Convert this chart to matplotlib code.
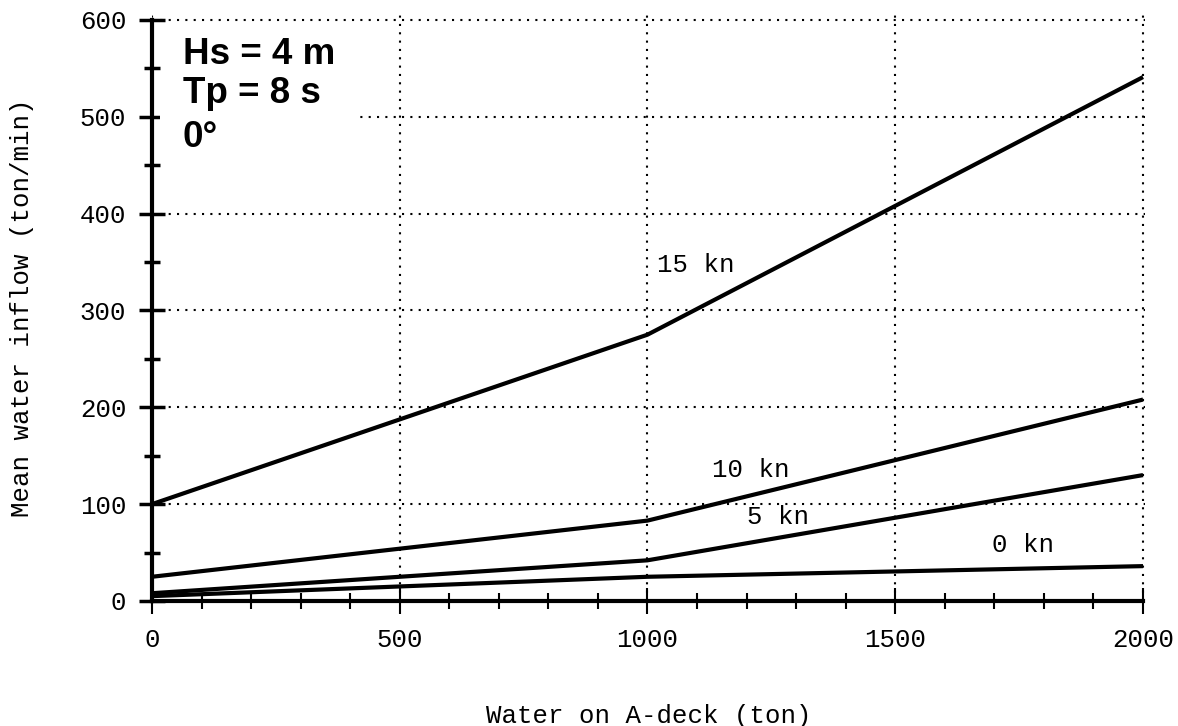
import matplotlib.pyplot as plt
from matplotlib.ticker import MultipleLocator
from matplotlib.patches import Rectangle

# Water on A-deck (ton) vs mean inflow (ton/min)
water_on_deck = [0, 1000, 2000]
inflow_15kn = [100, 275, 541]
inflow_10kn = [25, 83, 208]
inflow_5kn = [8, 42, 130]
inflow_0kn = [5, 25, 36]

speed_labels = ["15 kn", "10 kn", "5 kn", "0 kn"]
label_x = [1020, 1130, 1200, 1695]
label_y = [347, 135, 87, 58]

case_text = ["Hs = 4 m", "Tp = 8 s", "0\u00b0"]
case_y = [554, 514, 469]

mono = "Liberation Mono"
fs = 18.5

fig = plt.figure(figsize=(11.78, 7.26), dpi=100)
ax = fig.add_axes([0.129, 0.1722, 0.8434, 0.807])

for ys in (inflow_15kn, inflow_10kn, inflow_5kn, inflow_0kn):
    ax.plot(water_on_deck, ys, color="black", lw=3, solid_capstyle="butt", zorder=4)

for lab, lx, ly in zip(speed_labels, label_x, label_y):
    ax.text(lx, ly, lab, family=mono, fontsize=fs, ha="left", va="center", zorder=5)

ax.set_xlim(0, 2005)
ax.set_ylim(0, 605)
ax.spines["top"].set_visible(False)
ax.spines["right"].set_visible(False)
ax.spines["left"].set_linewidth(3)
ax.spines["bottom"].set_linewidth(3)
ax.spines["left"].set_bounds(0, 600)
ax.spines["bottom"].set_bounds(0, 2000)

ax.xaxis.set_minor_locator(MultipleLocator(100))
ax.yaxis.set_minor_locator(MultipleLocator(50))
ax.set_xticks(range(0, 2001, 500))
ax.set_yticks(range(0, 601, 100))

ax.tick_params(axis="x", which="major", direction="inout", length=19, width=1.5, pad=10)
ax.tick_params(axis="x", which="minor", direction="inout", length=11, width=1.5)
ax.tick_params(axis="y", which="major", direction="inout", length=19, width=2.5, pad=9)
ax.tick_params(axis="y", which="minor", direction="inout", length=12, width=2.5)
for lbl in ax.get_xticklabels() + ax.get_yticklabels():
    lbl.set_family(mono)
    lbl.set_fontsize(fs)

ax.grid(True, which="major", color="black", lw=1.5, linestyle=(0, (1, 3)))
ax.set_axisbelow(True)

# blank patch behind the case text (hides the 500 gridline there)
ax.add_patch(Rectangle((0.008, 0.78), 0.197, 0.1, transform=ax.transAxes,
                       facecolor="white", edgecolor="none", zorder=1.5))
for t, ty in zip(case_text, case_y):
    ax.text(62, ty, t, fontsize=26.5, fontweight="bold", family="Liberation Sans",
            ha="left", va="baseline", zorder=5)

ax.set_xlabel("Water on A-deck (ton)", family=mono, fontsize=fs, va="center")
ax.set_ylabel("Mean water inflow (ton/min)", family=mono, fontsize=fs, va="center")
ax.xaxis.set_label_coords(0.5, -0.196)
ax.yaxis.set_label_coords(-0.131, 0.5)

fig.savefig("out.png", dpi=100, facecolor="white")
